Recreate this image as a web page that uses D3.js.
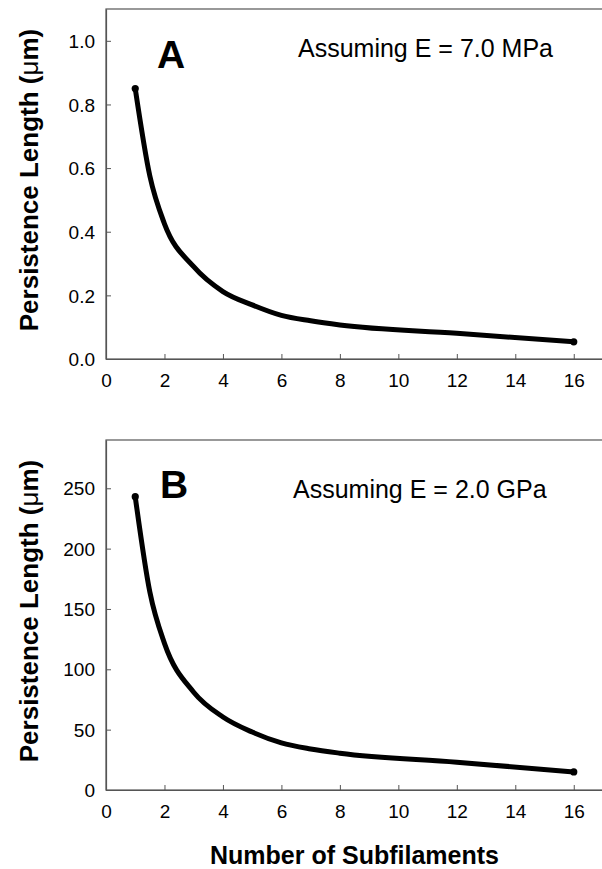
<!DOCTYPE html>
<html>
<head>
<meta charset="utf-8">
<script src="https://cdn.jsdelivr.net/npm/d3@7"></script>
<style>
  html, body { margin: 0; padding: 0; background: #fff; }
  svg { display: block; }
  text { font-family: "Liberation Sans", Arial, Helvetica, sans-serif; fill: #000; }
</style>
</head>
<body>
<svg id="chart" width="602" height="869"></svg>
<script>
// ---- data ----
const subfilaments = [1, 1.5, 2, 3, 4, 5, 6, 7, 8, 12, 16];
const lengthA = [0.85, 0.575, 0.425, 0.29, 0.212, 0.17, 0.137, 0.12, 0.107, 0.081, 0.054];
const lengthB = [243, 164, 121.5, 81, 60.5, 48, 39, 34, 30.5, 23, 15];
const xTicks = [0, 2, 4, 6, 8, 10, 12, 14, 16];
const yTicksA = [0.0, 0.2, 0.4, 0.6, 0.8, 1.0];
const yTicksB = [0, 50, 100, 150, 200, 250];
const panelLabels = ["A", "B"];
const notes = ["Assuming E = 7.0 MPa", "Assuming E = 2.0 GPa"];
const xTitle = "Number of Subfilaments";

const svg = d3.select("#chart");
const axisColor = "#555";

const panels = [
  { values: lengthA, ticks: yTicksA, domain: [0, 1.1], top: 9, bottom: 359, fmt: d3.format(".1f"),
    label: panelLabels[0], note: notes[0], lx: 157, ly: 68, nx: 298, ny: 57 },
  { values: lengthB, ticks: yTicksB, domain: [0, 290], top: 440, bottom: 790, fmt: d3.format("d"),
    label: panelLabels[1], note: notes[1], lx: 160, ly: 498, nx: 293, ny: 498 }
];

const left = 106, right = 603;
const x = d3.scaleLinear().domain([0, 17]).range([left, right]);

panels.forEach((p, i) => {
  const y = d3.scaleLinear().domain(p.domain).range([p.bottom, p.top]);
  const g = svg.append("g");

  // frame
  g.append("rect")
    .attr("x", left).attr("y", p.top)
    .attr("width", right - left).attr("height", p.bottom - p.top)
    .attr("fill", "none").attr("stroke", axisColor).attr("stroke-width", 1.2);

  // x axis
  const xa = g.append("g").attr("transform", `translate(0,${p.bottom})`)
    .call(d3.axisBottom(x).tickValues(xTicks).tickSizeInner(-5).tickSizeOuter(0).tickPadding(0).tickFormat(d3.format("d")));
  xa.select(".domain").attr("stroke", axisColor).attr("stroke-width", 1.2);
  xa.selectAll(".tick line").attr("stroke", axisColor);
  xa.selectAll(".tick text").attr("font-size", 19).attr("dy", null).attr("y", 28)
    .style("font-family", '"Liberation Sans", Arial, sans-serif');

  // y axis
  const ya = g.append("g").attr("transform", `translate(${left},0)`)
    .call(d3.axisLeft(y).tickValues(p.ticks).tickSizeInner(-5).tickSizeOuter(0).tickPadding(0).tickFormat(p.fmt));
  ya.select(".domain").attr("stroke", axisColor).attr("stroke-width", 1.2);
  ya.selectAll(".tick line").attr("stroke", axisColor);
  ya.selectAll(".tick text").attr("font-size", 19).attr("x", -11).attr("dy", "0.35em")
    .style("font-family", '"Liberation Sans", Arial, sans-serif');

  // curve
  const pts = subfilaments.map((n, k) => [n, p.values[k]]);
  const line = d3.line().x(d => x(d[0])).y(d => y(d[1])).curve(d3.curveMonotoneX);
  g.append("path").datum(pts).attr("d", line)
    .attr("fill", "none").attr("stroke", "#000").attr("stroke-width", 5)
    .attr("stroke-linejoin", "round").attr("stroke-linecap", "round");
  [pts[0], pts[pts.length - 1]].forEach(d => {
    g.append("circle").attr("cx", x(d[0])).attr("cy", y(d[1])).attr("r", 3.6).attr("fill", "#000");
  });

  // panel letter
  g.append("text").attr("x", p.lx).attr("y", p.ly)
    .attr("font-size", 39).attr("font-weight", "bold").text(p.label);

  // annotation
  g.append("text").attr("x", p.nx).attr("y", p.ny)
    .attr("font-size", 25).text(p.note);

  // y title
  const yt = g.append("text")
    .attr("transform", `translate(38,${(p.top + p.bottom) / 2 - 4}) rotate(-90)`)
    .attr("text-anchor", "middle").attr("font-size", 26).attr("font-weight", "bold");
  yt.append("tspan").text("Persistence Length (");
  yt.append("tspan").attr("font-weight", "normal").text("\u03bc");
  yt.append("tspan").text("m)");
});

svg.append("text").attr("x", (left + right) / 2).attr("y", 864)
  .attr("text-anchor", "middle").attr("font-size", 25).attr("font-weight", "bold")
  .text(xTitle);
</script>
</body>
</html>
